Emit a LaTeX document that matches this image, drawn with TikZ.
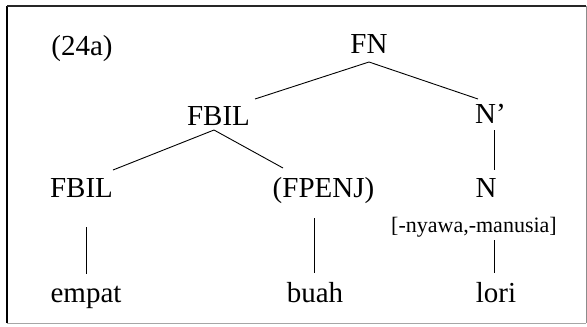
\documentclass[tikz,border=0pt]{standalone}
\usepackage{fontspec}
\setmainfont{Liberation Serif}
\usetikzlibrary{calc}
\begin{document}
\begin{tikzpicture}[x=1pt,y=-1pt,
  cat/.style={inner sep=0pt,anchor=base,font=\fontsize{29}{29}\selectfont},
  feat/.style={inner sep=0pt,anchor=base,font=\fontsize{22}{22}\selectfont},
  edge/.style={line width=0.9pt,black}]
\useasboundingbox (0,0) rectangle (587,327);
% frame
\draw[line width=1.3pt] (7,323) -- (7,6);
\draw[line width=1.1pt,black!85] (7,6) -- (586,6);
\draw[line width=0.8pt,black!45] (586,6) -- (586,323);
\draw[line width=0.8pt,black!35] (7,323) -- (586,323);
% nodes
\node[cat] (lab) at (82,55) {(24a)};
\node[cat] (FN) at (369,53) {FN};
\node[cat] (FBILa) at (218.5,125) {FBIL};
\node[cat] (Np) at (490.5,123) {N’};
\node[cat] (FBILb) at (81.5,197) {FBIL};
\node[cat] (FPENJ) at (323.5,197) {(FPENJ)};
\node[cat] (N) at (486,197) {N};
\node[feat] (ft) at (474,232) {[-nyawa,-manusia]};
\node[cat] (empat) at (86,302) {empat};
\node[cat] (buah) at (315,302) {buah};
\node[cat] (lori) at (496,302) {lori};
% edges
\draw[edge] ($(FBILa.base)+(36.5,-26)$) -- ($(FN.base)+(0,9)$) -- ($(Np.base)+(-12.5,-24)$);
\draw[edge] ($(FBILb.base)+(31.5,-27)$) -- ($(FBILa.base)+(-4.5,5)$) -- ($(FPENJ.base)+(-40.5,-29)$);
\draw[edge] ($(Np.base)+(3.5,7)$) -- ($(N.base)+(8,-27)$);
\draw[edge] ($(FBILb.base)+(4.5,30)$) -- ($(empat.base)+(0,-28)$);
\draw[edge] ($(FPENJ.base)+(-9.5,21)$) -- ($(buah.base)+(-1,-29)$);
\draw[edge] ($(ft.base)+(20,8)$) -- ($(lori.base)+(-2,-29)$);
\end{tikzpicture}
\end{document}
